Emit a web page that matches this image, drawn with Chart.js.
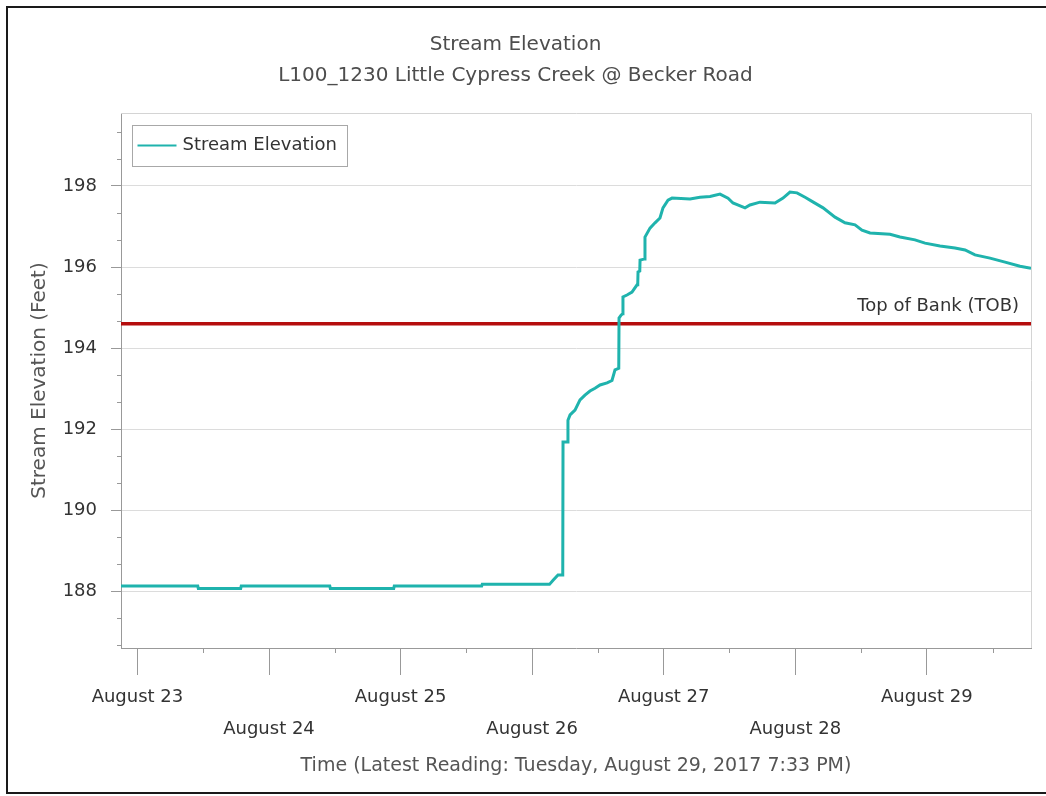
<!DOCTYPE html>
<html>
<head>
<meta charset="utf-8">
<title>Stream Elevation</title>
<script src="https://cdn.jsdelivr.net/npm/chart.js@4.4.1/dist/chart.umd.min.js"></script>
<style>
  html, body { margin: 0; padding: 0; background: #fff; }
  #wrap { position: relative; width: 1046px; height: 796px; overflow: hidden; }
  #grafico { position: absolute; left: 0; top: 0; }
  #marco { position: absolute; left: 6px; top: 6px; width: 1100px; height: 784px; border: 2px solid #1a1a1a; pointer-events: none; }
</style>
</head>
<body>
<div id="wrap">
  <canvas id="grafico" width="1046" height="796"></canvas>
  <div id="marco"></div>
</div>
<script>
// Lecturas (MM-DD HH:MM, elevación en pies)
const readingTimes = [
  '08-22 21:00', '08-23 11:00', '08-23 11:06', '08-23 18:50', '08-23 18:56',
  '08-24 11:05', '08-24 11:11', '08-24 22:45', '08-24 22:51', '08-25 14:48',
  '08-25 14:54', '08-26 03:10', '08-26 03:49', '08-26 04:43', '08-26 05:35',
  '08-26 05:38', '08-26 06:29', '08-26 06:32', '08-26 06:55', '08-26 07:49',
  '08-26 08:44', '08-26 09:38', '08-26 10:33', '08-26 11:28', '08-26 12:23',
  '08-26 13:40', '08-26 14:34', '08-26 15:07', '08-26 15:48', '08-26 15:51',
  '08-26 16:13', '08-26 16:31', '08-26 16:34', '08-26 17:18', '08-26 18:13',
  '08-26 19:08', '08-26 19:16', '08-26 19:19', '08-26 19:38', '08-26 19:41',
  '08-26 20:32', '08-26 20:35', '08-26 21:30', '08-26 22:25', '08-26 23:19',
  '08-26 23:52', '08-27 00:47', '08-27 01:31', '08-27 04:48', '08-27 06:37',
  '08-27 08:27', '08-27 10:16', '08-27 11:44', '08-27 12:38', '08-27 14:50',
  '08-27 15:44', '08-27 17:34', '08-27 20:18', '08-27 21:46', '08-27 23:02',
  '08-28 00:19', '08-28 01:47', '08-28 03:03', '08-28 05:04', '08-28 07:15',
  '08-28 09:04', '08-28 10:54', '08-28 12:10', '08-28 13:38', '08-28 17:17',
  '08-28 19:06', '08-28 21:50', '08-28 23:40', '08-29 02:24', '08-29 05:08',
  '08-29 06:58', '08-29 08:47', '08-29 11:31', '08-29 14:16', '08-29 17:00',
  '08-29 19:00'
];
const streamElevation = [
  188.13, 188.13, 188.07, 188.07, 188.13,
  188.13, 188.07, 188.07, 188.13, 188.13,
  188.17, 188.17, 188.27, 188.40, 188.40,
  191.68, 191.68, 192.22, 192.35, 192.47,
  192.72, 192.84, 192.94, 193.01, 193.09,
  193.14, 193.20, 193.46, 193.50, 194.74,
  194.81, 194.85, 195.26, 195.31, 195.38,
  195.56, 195.60, 195.88, 195.90, 196.17,
  196.20, 196.74, 196.96, 197.09, 197.21,
  197.46, 197.65, 197.70, 197.68, 197.72,
  197.74, 197.80, 197.70, 197.58, 197.46,
  197.53, 197.60, 197.58, 197.70, 197.85,
  197.83, 197.72, 197.62, 197.46, 197.23,
  197.09, 197.04, 196.91, 196.84, 196.81,
  196.74, 196.67, 196.59, 196.52, 196.47,
  196.42, 196.30, 196.22, 196.12, 196.02,
  195.97
];
const topOfBank = 194.6;
const dayLabels = ['August 23', 'August 24', 'August 25', 'August 26', 'August 27', 'August 28', 'August 29'];
const elevationTicks = [188, 190, 192, 194, 196, 198];

const FUENTE = 'DejaVu Sans';
const X_MIN = -3;   // horas desde el 23 de agosto 00:00
const X_MAX = 163;

// Convierte 'MM-DD HH:MM' a horas desde el 23 de agosto
function horasDesde23(texto) {
  const [fecha, hora] = texto.split(' ');
  const dia = Number(fecha.split('-')[1]);
  const [h, m] = hora.split(':').map(Number);
  return (dia - 23) * 24 + h + m / 60;
}

const puntos = readingTimes.map((t, i) => ({ x: horasDesde23(t), y: streamElevation[i] }));
const ticksDias = dayLabels.map((_, i) => i * 24);

// Extras: borde del área, marcas menores, leyenda interior y etiqueta TOB
const extras = {
  id: 'extras',
  beforeDatasetsDraw(chart) {
    const { ctx, chartArea: a } = chart;
    ctx.save();
    ctx.strokeStyle = '#d4d4d4';
    ctx.lineWidth = 1;
    ctx.beginPath();
    ctx.moveTo(a.left, a.top + 0.5);
    ctx.lineTo(a.right + 0.5, a.top + 0.5);
    ctx.lineTo(a.right + 0.5, a.bottom);
    ctx.stroke();
    ctx.restore();
  },
  afterDraw(chart) {
    const { ctx, chartArea: a, scales: { x, y } } = chart;
    ctx.save();
    ctx.strokeStyle = '#999';
    ctx.lineWidth = 1;
    ctx.beginPath();
    for (let h = 12; h < X_MAX; h += 24) {
      const px = Math.round(x.getPixelForValue(h)) + 0.5;
      ctx.moveTo(px, a.bottom);
      ctx.lineTo(px, a.bottom + 5);
    }
    for (let k = -2; 188 + k * 2 / 3 <= y.max; k++) {
      if (k % 3 === 0) continue;
      const v = 188 + k * 2 / 3;
      if (v < y.min) continue;
      const py = Math.round(y.getPixelForValue(v)) + 0.5;
      ctx.moveTo(a.left - 4, py);
      ctx.lineTo(a.left, py);
    }
    ctx.stroke();

    // etiqueta de la línea TOB
    const tob = chart.data.datasets[1];
    ctx.fillStyle = '#333';
    ctx.font = '18px "' + FUENTE + '"';
    ctx.textAlign = 'right';
    ctx.textBaseline = 'middle';
    ctx.fillText(tob.label, a.right - 12, y.getPixelForValue(topOfBank) - 17);

    // leyenda dentro del área
    const serie = chart.data.datasets[0];
    const lx = a.left + 11.5, ly = a.top + 12.5;
    ctx.strokeStyle = '#a8a8a8';
    ctx.strokeRect(lx, ly, 215, 41);
    ctx.strokeStyle = serie.borderColor;
    ctx.lineWidth = 2;
    ctx.beginPath();
    ctx.moveTo(lx + 5, ly + 20);
    ctx.lineTo(lx + 44, ly + 20);
    ctx.stroke();
    ctx.textAlign = 'left';
    ctx.fillText(serie.label, lx + 50, ly + 20);
    ctx.restore();
  }
};

const ctx = document.getElementById('grafico').getContext('2d');
new Chart(ctx, {
  type: 'line',
  data: {
    datasets: [
      {
        label: 'Stream Elevation',
        data: puntos,
        borderColor: '#1fb3ad',
        borderWidth: 3,
        pointRadius: 0,
        tension: 0,
        fill: false
      },
      {
        label: 'Top of Bank (TOB)',
        data: [{ x: X_MIN, y: topOfBank }, { x: X_MAX, y: topOfBank }],
        borderColor: '#b50d0d',
        borderWidth: 3.5,
        pointRadius: 0,
        fill: false
      }
    ]
  },
  options: {
    responsive: false,
    animation: false,
    layout: { padding: { left: 0, right: 15, top: 0, bottom: 0 } },
    plugins: {
      legend: { display: false },
      tooltip: { enabled: false },
      title: {
        display: true,
        text: ['Stream Elevation', 'L100_1230 Little Cypress Creek @ Becker Road'],
        color: '#4d4d4d',
        font: { family: FUENTE, size: 20, weight: 'normal', lineHeight: 1.55 },
        padding: { top: 29, bottom: 22 }
      }
    },
    scales: {
      x: {
        type: 'linear',
        min: X_MIN,
        max: X_MAX,
        afterBuildTicks: s => { s.ticks = ticksDias.map(v => ({ value: v })); },
        afterFit: s => { s.height = 148; },
        grid: { drawOnChartArea: false, tickLength: 27, tickColor: '#999', tickWidth: 1 },
        border: { color: '#999' },
        ticks: {
          autoSkip: false,
          maxRotation: 0,
          padding: 6,
          color: '#333',
          font: { family: FUENTE, size: 18, lineHeight: 1.78 },
          callback: (v, i) => i % 2 === 0 ? [dayLabels[i], ''] : ['', dayLabels[i]]
        },
        title: {
          display: true,
          text: 'Time (Latest Reading: Tuesday, August 29, 2017 7:33 PM)',
          color: '#555',
          font: { family: FUENTE, size: 19 },
          padding: { top: 0, bottom: 19 }
        }
      },
      y: {
        min: 186.6,
        max: 199.8,
        afterBuildTicks: s => { s.ticks = elevationTicks.map(v => ({ value: v })); },
        afterFit: s => { s.width = 121; },
        grid: { color: '#dcdcdc', tickLength: 10, tickColor: '#999' },
        border: { color: '#999' },
        ticks: {
          padding: 14,
          color: '#333',
          font: { family: FUENTE, size: 18 },
          callback: v => String(v)
        },
        title: {
          display: true,
          text: 'Stream Elevation (Feet)',
          color: '#555',
          font: { family: FUENTE, size: 20, lineHeight: 1.2 },
          padding: { top: 28, bottom: 0 }
        }
      }
    }
  },
  plugins: [extras]
});
</script>
</body>
</html>
